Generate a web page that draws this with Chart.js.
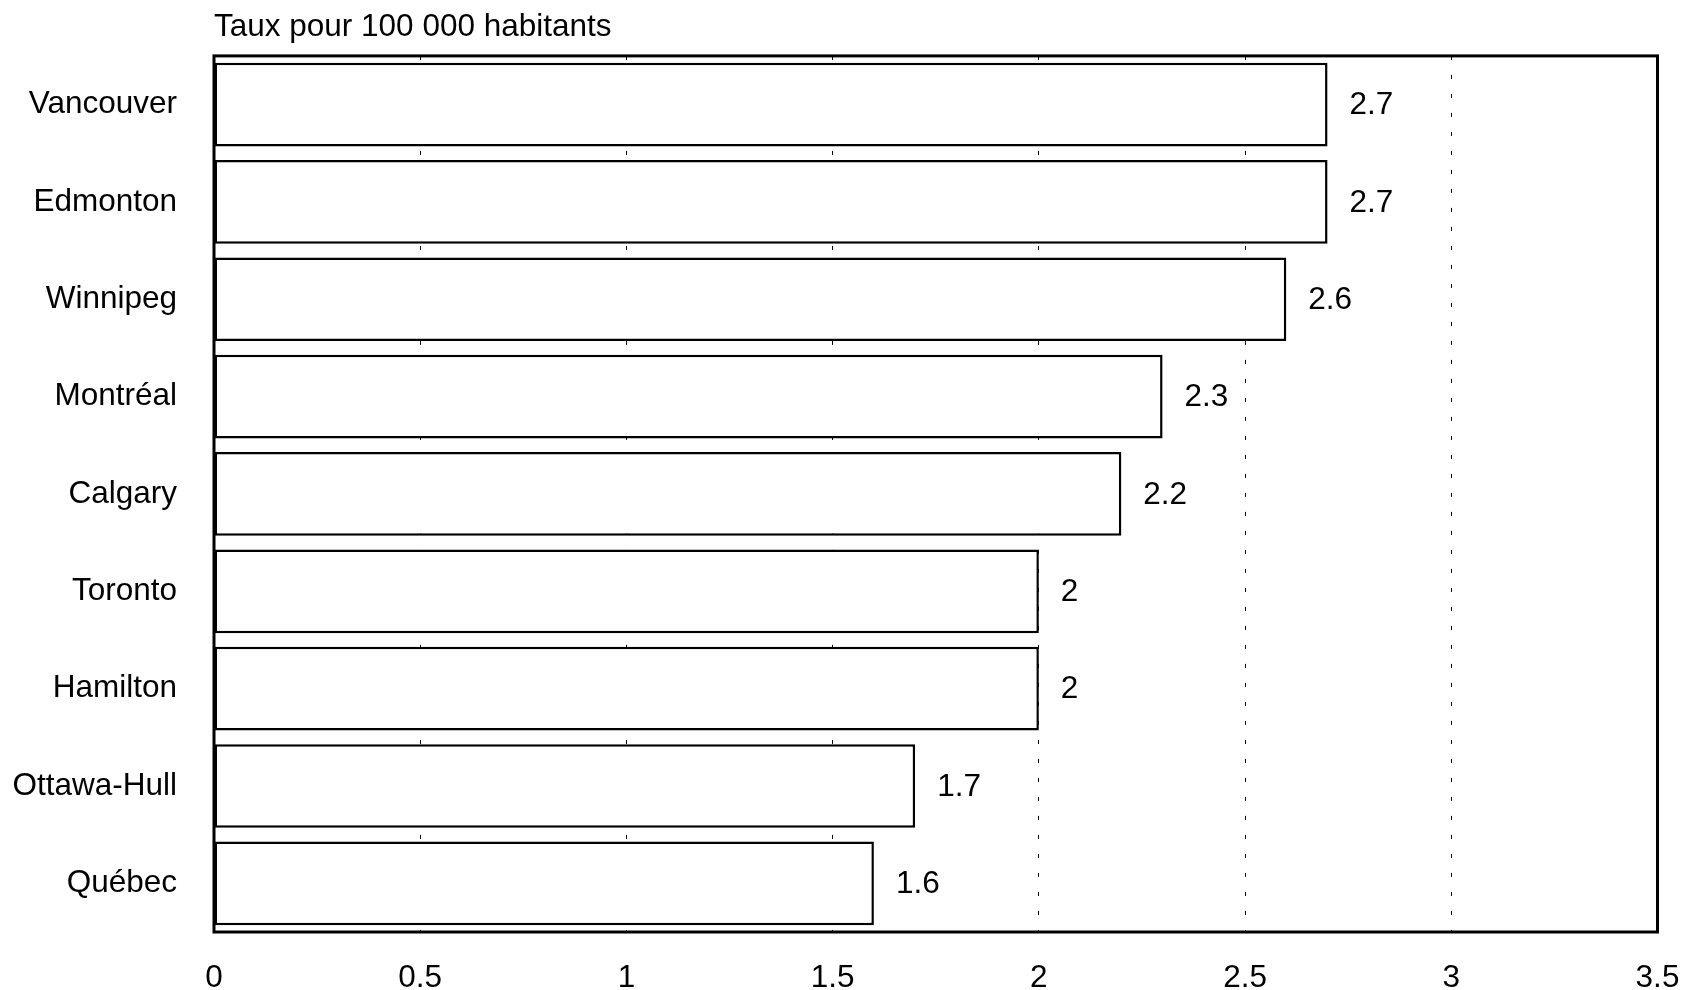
<!DOCTYPE html>
<html>
<head>
<meta charset="utf-8">
<script src="https://cdn.jsdelivr.net/npm/chart.js@4/dist/chart.umd.min.js"></script>
<style>
  html, body { margin: 0; padding: 0; background: #fff; }
  #wrap { width: 1688px; height: 990px; }
</style>
</head>
<body>
<div id="wrap"><canvas id="c" width="1688" height="990"></canvas></div>
<script>
// Homicide rate per 100 000 inhabitants, by metropolitan area
const cities = ['Vancouver', 'Edmonton', 'Winnipeg', 'Montréal', 'Calgary', 'Toronto', 'Hamilton', 'Ottawa-Hull', 'Québec'];
const rates = [2.7, 2.7, 2.6, 2.3, 2.2, 2, 2, 1.7, 1.6];
const xTickValues = [0, 0.5, 1, 1.5, 2, 2.5, 3, 3.5];
const unitTitle = 'Taux pour 100 000 habitants';

const FONT = "'Liberation Sans', Arial, Helvetica, sans-serif";

// Thick black frame around the plotting area
const framePlugin = {
  id: 'frame',
  afterDraw(chart) {
    const { ctx, chartArea: a } = chart;
    ctx.save();
    ctx.strokeStyle = '#000';
    ctx.lineWidth = 3;
    ctx.strokeRect(a.left, a.top, a.right - a.left, a.bottom - a.top);
    ctx.restore();
  }
};

// Value printed just past the end of each bar
const valueLabels = {
  id: 'valueLabels',
  afterDatasetsDraw(chart) {
    const { ctx } = chart;
    const meta = chart.getDatasetMeta(0);
    ctx.save();
    ctx.font = '31.5px ' + FONT;
    ctx.fillStyle = '#000';
    ctx.textAlign = 'left';
    ctx.textBaseline = 'middle';
    meta.data.forEach((bar, i) => {
      ctx.fillText(String(rates[i]), bar.x + 22, bar.y + 1);
    });
    ctx.restore();
  }
};

new Chart(document.getElementById('c'), {
  type: 'bar',
  data: {
    labels: cities,
    datasets: [{
      data: rates,
      backgroundColor: '#fff',
      borderColor: '#000',
      borderWidth: 2.5,
      borderSkipped: false,
      barPercentage: 0.86,
      categoryPercentage: 1
    }]
  },
  options: {
    indexAxis: 'y',
    responsive: false,
    animation: false,
    devicePixelRatio: 1,
    layout: { padding: { top: 0, right: 30.5, bottom: 0, left: 0 } },
    plugins: {
      legend: { display: false },
      tooltip: { enabled: false },
      title: {
        display: true,
        text: unitTitle,
        align: 'start',
        fullSize: false,
        color: '#000',
        font: { family: FONT, size: 31.5, weight: 'normal', lineHeight: 1.2 },
        padding: { top: 5, bottom: 9.7 }
      }
    },
    scales: {
      x: {
        type: 'linear',
        min: 0,
        max: 3.5,
        afterBuildTicks(scale) {
          scale.ticks = xTickValues.map(v => ({ value: v }));
        },
        afterFit(scale) {
          scale.height = 58;
          // end labels may overhang the frame; keep the plot edges fixed
          scale.paddingLeft = 0;
          scale.paddingRight = 0;
        },
        ticks: {
          color: '#000',
          font: { family: FONT, size: 31.5 },
          padding: 27,
          maxRotation: 0,
          autoSkip: false,
          callback: v => String(v)
        },
        grid: { color: '#000', lineWidth: 1, drawTicks: false },
        border: { display: false, dash: [4, 15] }
      },
      y: {
        afterFit(scale) { scale.width = 214; },
        ticks: {
          color: '#000',
          font: { family: FONT, size: 31.5 },
          padding: 37
        },
        grid: { display: false, drawTicks: false },
        border: { display: false }
      }
    }
  },
  plugins: [framePlugin, valueLabels]
});
</script>
</body>
</html>
